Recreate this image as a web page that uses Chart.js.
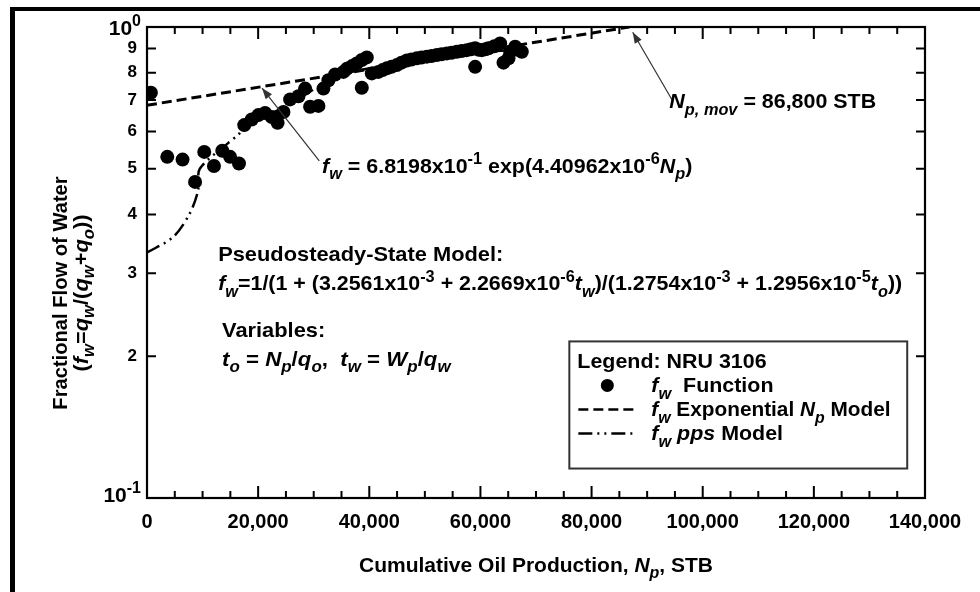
<!DOCTYPE html>
<html><head><meta charset="utf-8">
<script src="https://cdn.jsdelivr.net/npm/chart.js@4/dist/chart.umd.min.js"></script>
<style>html,body{margin:0;padding:0;background:#fff;}canvas{display:block;}</style>
</head><body>
<canvas id="c" width="980" height="592"></canvas>
<script>
// ---- data ----
const npFunction = [700,3650,6400,8650,10300,12050,13550,14950,16550,17500,18850,20050,21250,22450,23500,24550,25750,27250,28450,29350,30850,31750,32650,33850,35350,35950,36900,37750,38650,38650,39550,40450,41650,42400,43150,44000,44950,45800,46750,47600,48550,49400,50350,51200,52150,53000,53950,54800,55750,56600,57550,58300,59050,59050,59700,60250,60900,61450,62500,63550,64150,65050,65350,66250,66800,67450];
const fwFunction = [0.725,0.530,0.523,0.469,0.543,0.507,0.546,0.530,0.513,0.619,0.636,0.650,0.657,0.644,0.626,0.660,0.702,0.713,0.740,0.677,0.680,0.740,0.771,0.793,0.803,0.815,0.826,0.837,0.851,0.743,0.862,0.797,0.803,0.810,0.817,0.823,0.830,0.840,0.849,0.853,0.858,0.861,0.865,0.868,0.872,0.875,0.879,0.882,0.886,0.889,0.893,0.897,0.901,0.823,0.895,0.893,0.897,0.901,0.910,0.923,0.840,0.858,0.886,0.908,0.895,0.886];
const npExpModel = [0, 86800];
const fwExpModel = [0.68198, 1.0];
const npPpsModel = [0,4700,7700,9200,9500,14600,16400,17500,25000,35000,45000,55000,67000];
const fwPpsModel = [0.332,0.358,0.402,0.45,0.50,0.567,0.59,0.61,0.68,0.79,0.835,0.875,0.895];
const xTickValues = [0,20000,40000,60000,80000,100000,120000,140000];
const xMinorStep = 5000;
const yTickValues = [0.1,0.2,0.3,0.4,0.5,0.6,0.7,0.8,0.9,1];

const FONT = '"Liberation Sans", Arial, Helvetica, sans-serif';
const TS = 21, SX = 1.02;

// rich text: *italic*, _{sub}, ^{sup}
function parseRich(s){
  const out=[]; let it=false, mode='n', buf='';
  const flush=()=>{ if(buf){out.push({t:buf,i:it,m:mode}); buf='';} };
  for(let k=0;k<s.length;k++){
    const c=s[k];
    if(c==='*'){flush(); it=!it; continue;}
    if((c==='_'||c==='^') && s[k+1]==='{'){flush(); mode=c==='_'?'b':'p'; k++; continue;}
    if(c==='}' && mode!=='n'){flush(); mode='n'; continue;}
    buf+=c;
  }
  flush(); return out;
}
function segFont(sg,size){ const sz = sg.m==='n'?size:Math.round(size*0.78); return (sg.i?'italic ':'')+'bold '+sz+'px '+FONT; }
function richWidth(ctx,s,size){ let w=0; for(const sg of parseRich(s)){ctx.font=segFont(sg,size); w+=ctx.measureText(sg.t).width;} return w; }
function drawRich(ctx,s,x,y,size,align,sx){
  sx = sx||1;
  const w = richWidth(ctx,s,size)*sx;
  let cx = align==='center'? x-w/2 : align==='right'? x-w : x;
  ctx.save(); ctx.fillStyle='#000'; ctx.textBaseline='alphabetic'; ctx.textAlign='left';
  for(const sg of parseRich(s)){
    ctx.font=segFont(sg,size);
    const dy = sg.m==='b'? size*0.3 : sg.m==='p'? -size*0.42 : 0;
    ctx.save(); ctx.translate(cx,y+dy); ctx.scale(sx,1); ctx.fillText(sg.t,0,0); ctx.restore();
    cx += ctx.measureText(sg.t).width*sx;
  }
  ctx.restore();
}
function arrow(ctx,x1,y1,x2,y2){
  ctx.save(); ctx.strokeStyle='#333'; ctx.fillStyle='#333'; ctx.lineWidth=1.2;
  ctx.beginPath(); ctx.moveTo(x1,y1); ctx.lineTo(x2,y2); ctx.stroke();
  const a=Math.atan2(y2-y1,x2-x1), L=11, W=4;
  ctx.beginPath(); ctx.moveTo(x2,y2);
  ctx.lineTo(x2-L*Math.cos(a)+W*Math.sin(a), y2-L*Math.sin(a)-W*Math.cos(a));
  ctx.lineTo(x2-L*Math.cos(a)-W*Math.sin(a), y2-L*Math.sin(a)+W*Math.cos(a));
  ctx.closePath(); ctx.fill(); ctx.restore();
}

const decor = {
  id:'decor',
  afterDraw(chart){
    const ctx=chart.ctx, a=chart.chartArea, xs=chart.scales.x, ys=chart.scales.y;
    const X=v=>xs.getPixelForValue(v), Y=v=>ys.getPixelForValue(v);
    ctx.save();
    // outer frame
    ctx.fillStyle='#000'; ctx.fillRect(10,7,970,4); ctx.fillRect(10,7,5,585);
    // plot border
    ctx.strokeStyle='#000'; ctx.lineWidth=2.2; ctx.strokeRect(a.left,a.top,a.right-a.left,a.bottom-a.top);
    // x ticks (inward, bottom and top)
    ctx.lineWidth=2;
    for(let v=0; v<=140000; v+=xMinorStep){
      const major = xTickValues.includes(v), L = major?12:7, px=X(v);
      ctx.beginPath(); ctx.moveTo(px,a.bottom); ctx.lineTo(px,a.bottom-L); ctx.moveTo(px,a.top); ctx.lineTo(px,a.top+L); ctx.stroke();
    }
    for(const v of yTickValues){
      if(v===0.1||v===1) continue;
      const py=Y(v);
      ctx.beginPath(); ctx.moveTo(a.left,py); ctx.lineTo(a.left+9,py); ctx.moveTo(a.right,py); ctx.lineTo(a.right-9,py); ctx.stroke();
    }
    // decade labels
    drawRich(ctx,'10^{0}',a.left-6,Y(1)+8,21,'right');
    drawRich(ctx,'10^{-1}',a.left-6,Y(0.1)+4,21,'right');
    // axis titles
    drawRich(ctx,'Cumulative Oil Production, *N*_{*p*}, STB',(a.left+a.right)/2,572,TS,'center',1.0);
    ctx.save(); ctx.translate(67,293); ctx.rotate(-Math.PI/2);
    drawRich(ctx,'Fractional Flow of Water',0,0,TS,'center',0.96);
    drawRich(ctx,'(*f*_{*w*}=*q*_{*w*}/(*q*_{*w*}+*q*_{*o*}))',0,21,TS,'center',1.04);
    ctx.restore();
    // annotations
    arrow(ctx,X(31000),Y(0.52),X(20700),Y(0.742));
    drawRich(ctx,'*f*_{*w*} = 6.8198x10^{-1} exp(4.40962x10^{-6}*N*_{*p*})',X(31500),Y(0.49),TS,'left',SX);
    arrow(ctx,X(94500),Y(0.70),X(87400),Y(0.975));
    drawRich(ctx,'*N*_{*p, mov*} = 86,800 STB',X(94000),Y(0.672),TS,'left',SX);
    drawRich(ctx,'Pseudosteady-State Model:',X(12800),Y(0.318),TS,'left',1.04);
    drawRich(ctx,'*f*_{*w*}=1/(1 + (3.2561x10^{-3} + 2.2669x10^{-6}*t*_{*w*})/(1.2754x10^{-3} + 1.2956x10^{-5}*t*_{*o*}))',X(12800),Y(0.276),TS,'left',SX);
    drawRich(ctx,'Variables:',X(13500),Y(0.22),TS,'left',1.04);
    drawRich(ctx,'*t*_{*o*} = *N*_{*p*}/*q*_{*o*},  *t*_{*w*} = *W*_{*p*}/*q*_{*w*}',X(13500),Y(0.191),TS,'left',1.06);
    // legend box
    const lx=X(76000), rx=X(136800), ty=Y(0.215), by=Y(0.1155);
    ctx.fillStyle='#fff'; ctx.fillRect(lx,ty,rx-lx,by-ty);
    ctx.strokeStyle='#333'; ctx.lineWidth=2; ctx.strokeRect(lx,ty,rx-lx,by-ty);
    const rowY=[ty+27, ty+51, ty+75, ty+99];
    drawRich(ctx,'Legend: NRU 3106',lx+8,rowY[0],TS,'left',SX);
    ctx.fillStyle='#000'; ctx.beginPath(); ctx.arc(lx+38,rowY[1]-7,6.5,0,2*Math.PI); ctx.fill();
    drawRich(ctx,'*f*_{*w*}  Function',lx+82,rowY[1],TS,'left',SX);
    ctx.strokeStyle='#000'; ctx.lineWidth=2.5;
    ctx.setLineDash([10,5]); ctx.beginPath(); ctx.moveTo(lx+9,rowY[2]-7); ctx.lineTo(lx+64,rowY[2]-7); ctx.stroke();
    drawRich(ctx,'*f*_{*w*} Exponential *N*_{*p*} Model',lx+82,rowY[2],TS,'left',0.99);
    ctx.setLineDash([14,5,2,5,2,5]); ctx.beginPath(); ctx.moveTo(lx+9,rowY[3]-7); ctx.lineTo(lx+64,rowY[3]-7); ctx.stroke();
    ctx.setLineDash([]);
    drawRich(ctx,'*f*_{*w*} *pps* Model',lx+82,rowY[3],TS,'left',SX);
    ctx.restore();
  }
};

new Chart(document.getElementById('c').getContext('2d'), {
  type:'scatter',
  data:{datasets:[
    {label:'fw Function', data:npFunction.map((x,i)=>({x:x,y:fwFunction[i]})), showLine:false,
     pointRadius:7, pointBackgroundColor:'#000', pointBorderColor:'#000', pointBorderWidth:0, order:0},
    {label:'fw Exponential Np Model', data:npExpModel.map((x,i)=>({x:x,y:fwExpModel[i]})), showLine:true,
     borderColor:'#000', borderWidth:3, borderDash:[10,5], pointRadius:0, order:1},
    {label:'fw pps Model', data:npPpsModel.map((x,i)=>({x:x,y:fwPpsModel[i]})), showLine:true, tension:0.3,
     borderColor:'#000', borderWidth:2.5, borderDash:[14,5,2,5,2,5], pointRadius:0, order:2}
  ]},
  options:{
    responsive:false, animation:false, devicePixelRatio:1,
    layout:{padding:{top:27,right:55,left:0,bottom:0}},
    plugins:{legend:{display:false},tooltip:{enabled:false}},
    scales:{
      x:{type:'linear',min:0,max:140000,
        afterBuildTicks:s=>{s.ticks=xTickValues.map(v=>({value:v}));},
        afterFit:s=>{s.height=94;},
        grid:{display:false,drawTicks:false}, border:{display:false},
        ticks:{autoSkip:false,maxRotation:0,padding:12,color:'#000',font:{family:FONT,weight:'bold',size:20},
          callback:v=>Number(v).toLocaleString('en-US')}},
      y:{type:'logarithmic',min:0.1,max:1,
        afterBuildTicks:s=>{s.ticks=yTickValues.map(v=>({value:v}));},
        afterFit:s=>{s.width=147;},
        grid:{display:false,drawTicks:false}, border:{display:false},
        ticks:{autoSkip:false,padding:10,color:'#000',font:{family:FONT,weight:'bold',size:17},
          callback:v=>(Math.abs(v-0.1)<1e-9||Math.abs(v-1)<1e-9)?'':String(Math.round(v*10))}}
    }
  },
  plugins:[decor]
});
</script>
</body></html>
